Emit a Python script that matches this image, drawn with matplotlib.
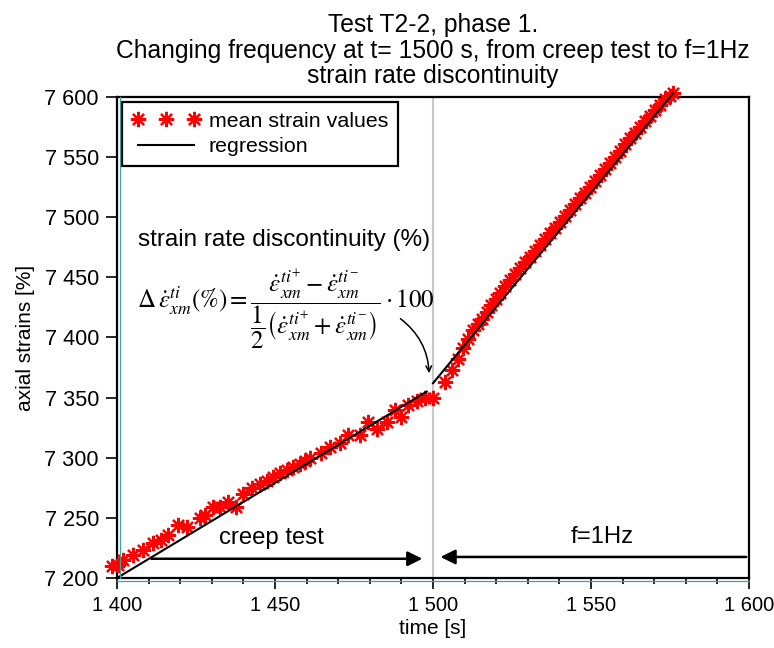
import matplotlib
matplotlib.use("Agg")
import matplotlib.pyplot as plt
from matplotlib.lines import Line2D
from matplotlib.ticker import MultipleLocator, FuncFormatter

plt.rcParams['font.family'] = ['Liberation Sans', 'DejaVu Sans']
plt.rcParams['mathtext.fontset'] = 'stix'

# creep test part (t < 1500 s)
t_creep = [1398.3, 1400.2, 1402.0, 1405.2, 1408.3, 1411.5, 1414.0, 1416.2, 1419.4,
           1422.0, 1426.3, 1428.0, 1430.5, 1432.6, 1435.2, 1437.8, 1440.0, 1442.6,
           1445.3, 1447.5, 1449.5, 1451.5, 1453.7, 1455.8, 1457.9, 1459.5, 1461.0,
           1464.7, 1467.4, 1470.6, 1473.2, 1476.9, 1479.5, 1482.2, 1485.3, 1488.0,
           1490.0, 1492.2, 1494.8, 1497.5, 1500.0]
eps_creep = [7210, 7211, 7215, 7219, 7223, 7229, 7232, 7236, 7244,
             7242, 7250, 7252, 7259, 7259, 7263, 7259, 7270, 7275,
             7278, 7281, 7284, 7287, 7290, 7292, 7295, 7297, 7300,
             7304, 7309, 7312, 7319, 7319, 7330, 7324, 7330, 7340,
             7334, 7344, 7347, 7350, 7350]

# f = 1 Hz part (t > 1500 s)
t_cyc = [1503.8, 1505.9, 1507.8, 1509.6, 1511.2, 1512.7, 1514.1, 1515.4, 1517.0, 1518.5,
         1519.9, 1521.2, 1522.8, 1524.4, 1526.0, 1527.5, 1529.1, 1530.7, 1532.3, 1533.9,
         1535.5, 1537.0, 1538.6, 1540.2, 1541.8, 1543.4, 1545.0, 1546.5, 1548.1, 1549.7,
         1551.3, 1552.8, 1554.4, 1556.0, 1557.6, 1559.2, 1560.8, 1562.3, 1563.9, 1565.5,
         1567.1, 1568.7, 1570.3, 1571.8, 1573.4, 1575.0, 1576.0]
eps_cyc = [7363, 7373, 7382, 7391, 7399, 7406, 7411, 7415, 7421, 7427,
           7432, 7437, 7443, 7448, 7453, 7458, 7463, 7467, 7472, 7477,
           7482, 7487, 7491, 7496, 7501, 7506, 7511, 7516, 7520, 7525,
           7530, 7535, 7540, 7545, 7550, 7555, 7561, 7566, 7570, 7575,
           7580, 7584, 7589, 7593, 7598, 7601, 7603]

# regression lines
reg_creep_t = [1400, 1498]
reg_creep_eps = [7200, 7355]
reg_cyc_t = [1500, 1576]
reg_cyc_eps = [7362, 7603]

fig = plt.figure(figsize=(7.74, 6.48), dpi=100)
ax = fig.add_axes([117 / 774, 1 - 578 / 648, (749 - 117) / 774, (578 - 97) / 648])

ax.axvline(1500, color='#c8c8c8', lw=1.5, zorder=0)

star = (8, 2, 0)
ax.plot(t_creep, eps_creep, ls='none', marker=star, ms=11, mew=1.6, color='red',
        clip_on=False, zorder=3, label='mean strain values')
ax.plot(t_cyc, eps_cyc, ls='none', marker=star, ms=11, mew=1.6, color='red',
        clip_on=False, zorder=3)
ax.plot(reg_creep_t, reg_creep_eps, color='black', lw=1.5, zorder=4, label='regression')
ax.plot(reg_cyc_t, reg_cyc_eps, color='black', lw=1.5, zorder=4, clip_on=False)

ax.set_xlim(1400, 1600)
ax.set_ylim(7200, 7600)
ax.xaxis.set_major_locator(MultipleLocator(50))
ax.xaxis.set_minor_locator(MultipleLocator(10))
ax.yaxis.set_major_locator(MultipleLocator(50))
fmt = FuncFormatter(lambda v, p: f"{int(round(v)):,}".replace(",", " "))
ax.xaxis.set_major_formatter(fmt)
ax.yaxis.set_major_formatter(fmt)
ax.tick_params(axis='both', which='major', direction='out', length=8, width=1.2,
               labelsize=15.6, pad=5)
ax.tick_params(axis='x', which='major', labelsize=14.5)
ax.tick_params(axis='x', which='minor', direction='out', length=4, width=1.2)
for s in ax.spines.values():
    s.set_linewidth(1.6)

ax.set_xlabel('time [s]', fontsize=15, labelpad=3)
ax.set_ylabel('axial strains [%]', fontsize=15, labelpad=7)
ax.set_title('Test T2-2, phase 1.\nChanging frequency at t= 1500 s, from creep test to f=1Hz\n'
             'strain rate discontinuity', fontsize=17.7, linespacing=1.08, pad=10)

leg = ax.legend(loc='upper left', numpoints=3, handlelength=3.2, fontsize=15.4,
                fancybox=False, edgecolor='black', framealpha=1, borderaxespad=0.25,
                borderpad=0.45, labelspacing=0.3, handletextpad=0.4)
leg.get_frame().set_linewidth(1.6)

# phase arrows
ax.annotate('', xy=(1497.5, 7216), xytext=(1410, 7216),
            arrowprops=dict(arrowstyle='-|>', color='black', lw=1.8, mutation_scale=22))
ax.annotate('', xy=(1501.5, 7217.5), xytext=(1600, 7217.5),
            arrowprops=dict(arrowstyle='-|>', color='black', lw=1.8, mutation_scale=22))
ax.text(1449, 7233, 'creep test', fontsize=17.2, ha='center', va='center')
ax.text(1553.5, 7234, 'f=1Hz', fontsize=17.2, ha='center', va='center')

# discontinuity formula
ax.text(1453, 7481, 'strain rate discontinuity (%)', fontsize=17.5, ha='center', va='center')
formula = (r'$\Delta\,\dot{\varepsilon}^{ti}_{xm}(\%)=\dfrac{\dot{\varepsilon}^{ti^{+}}_{xm}'
           r'-\dot{\varepsilon}^{ti^{-}}_{xm}}{\dfrac{1}{2}\left(\dot{\varepsilon}^{ti^{+}}_{xm}'
           r'+\dot{\varepsilon}^{ti^{-}}_{xm}\right)}\cdot 100$')
ax.text(1453.5, 7424, formula, fontsize=18, ha='center', va='center')
ax.annotate('', xy=(1498.8, 7368), xytext=(1489, 7417),
            arrowprops=dict(arrowstyle='->', color='black', lw=1.1,
                            connectionstyle='arc3,rad=-0.25'))

# thin teal lines along the left and bottom axes
teal = '#33a5a5'
fig.add_artist(Line2D([119.5 / 774, 119.5 / 774], [1 - 578 / 648, 1 - 97 / 648],
                      transform=fig.transFigure, color=teal, lw=0.9))
fig.add_artist(Line2D([117 / 774, 749 / 774], [1 - 580.5 / 648, 1 - 580.5 / 648],
                      transform=fig.transFigure, color=teal, lw=0.9))

fig.savefig('out.png', dpi=100)
